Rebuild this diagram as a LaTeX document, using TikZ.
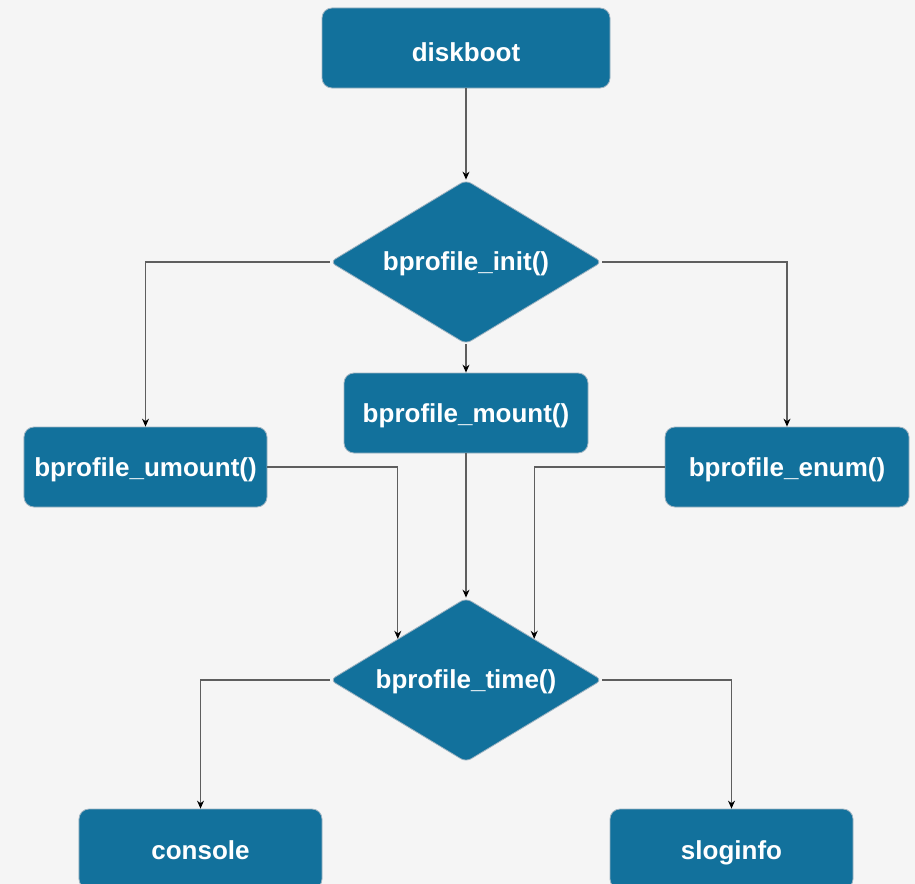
\documentclass[tikz,border=0pt]{standalone}
\usepackage{fontspec}
\setmainfont{Liberation Sans}
\usetikzlibrary{shapes.geometric,arrows.meta}
\definecolor{boxfill}{HTML}{12719C}
\definecolor{bg}{HTML}{F5F5F5}
\definecolor{edge}{HTML}{9FB4C2}
\definecolor{wire}{HTML}{5E5E5E}
\tikzset{
  box/.style={rectangle, rounded corners=10bp, fill=boxfill, draw=edge, line width=0.8bp,
    text=white, font=\fontsize{26bp}{30bp}\selectfont\bfseries, inner sep=0pt,
    text height=19bp, text depth=1bp,
    minimum width=243bp, minimum height=80bp},
  decision/.style={diamond, aspect=1.66, rounded corners=6bp, fill=boxfill, draw=edge, line width=0.8bp,
    text=white, font=\fontsize{26bp}{30bp}\selectfont\bfseries, inner sep=0pt,
    text height=18bp, text depth=2bp,
    minimum width=272bp, minimum height=164bp},
  conn/.style={draw=wire, line width=1.1bp, -{Stealth[length=8bp,width=7bp,color=black]}}
}
\begin{document}
\begin{tikzpicture}[x=1bp,y=-1bp]
\fill[bg] (0,0) rectangle (915,884);
\useasboundingbox (0,0) rectangle (915,884);
\clip (0,0) rectangle (915,884);
\node[box, minimum width=288bp, text height=26bp, text depth=0bp] (disk) at (466,48) {diskboot};
\node[decision] (init) at (466,262) {bprofile\_init()};
\node[box, minimum width=244bp] (mount) at (466,413) {bprofile\_mount()};
\node[box] (umount) at (145.5,467) {bprofile\_umount()};
\node[box, minimum width=244bp] (enum) at (787,467) {bprofile\_enum()};
\node[decision] (time) at (466,680) {bprofile\_time()};
\node[box, text height=23bp, text depth=3bp] (console) at (200.5,849) {console};
\node[box, text height=23bp, text depth=3bp] (slog) at (731.5,849) {sloginfo};
\draw[conn] (disk) -- (init);
\draw[conn] (init.west) -| (umount.north);
\draw[conn] (init.east) -| (enum.north);
\draw[conn] (init) -- (mount);
\draw[conn] (umount.east) -| (time.north west);
\draw[conn] (mount) -- (time);
\draw[conn] (enum.west) -| (time.north east);
\draw[conn] (time.west) -| (console.north);
\draw[conn] (time.east) -| (slog.north);
\end{tikzpicture}
\end{document}
